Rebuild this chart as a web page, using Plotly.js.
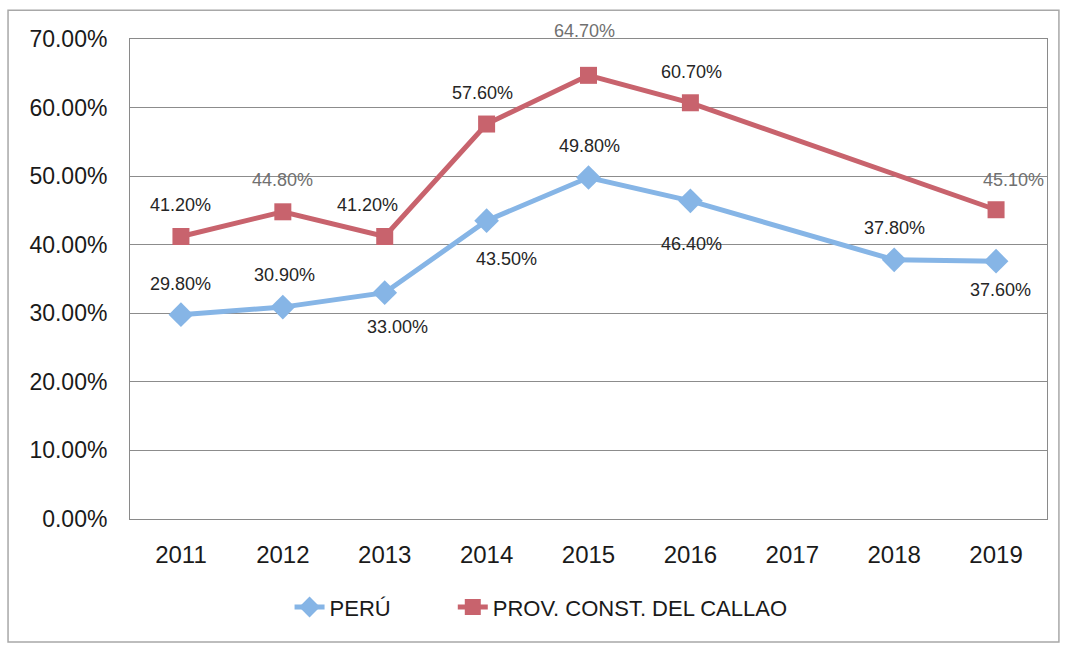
<!DOCTYPE html>
<html>
<head>
<meta charset="utf-8">
<script src="https://cdn.plot.ly/plotly-3.0.1.min.js"></script>
<style>html,body{margin:0;padding:0;background:#fff;}#chart{width:1066px;height:647px;}</style>
</head>
<body>
<div id="chart"></div>
<script>
var years = ['2011','2012','2013','2014','2015','2016','2017','2018','2019'];
var peru = [29.8, 30.9, 33.0, 43.5, 49.8, 46.4, null, 37.8, 37.6];
var callao = [41.2, 44.8, 41.2, 57.6, 64.7, 60.7, null, null, 45.1];
var peruName = 'PERÚ';
var callaoName = 'PROV. CONST. DEL CALLAO';
var yTickVals = [0, 10, 20, 30, 40, 50, 60, 70];
var yTickText = ['0.00%', '10.00%', '20.00%', '30.00%', '40.00%', '50.00%', '60.00%', '70.00%'];

// label placement (style only)
var peruShift = [[0,-31],[2,-32],[13,34],[20,38],[1,-32],[1,43],null,[0,-32],[4,29]];
var callaoShift = [[0,-31],[0,-32],[-17,-31],[-4,-31],[-4,-44],[1,-31],null,null,[17,-30]];
var callaoGray = [false,true,false,false,true,false,false,false,true];

function fmt(v){ return v.toFixed(2) + '%'; }

var FONT = 'Liberation Sans, Arial, sans-serif';
var annotations = [];
function addLabels(vals, shifts, grayFlags){
  vals.forEach(function(v,i){
    if(v === null) return;
    var s = shifts[i];
    annotations.push({
      x: i, y: v, xref:'x', yref:'y', text: fmt(v), showarrow:false,
      xanchor:'center', yanchor:'middle',
      xshift: s[0], yshift: -s[1],
      font:{family: FONT, size:18, color: (grayFlags && grayFlags[i]) ? '#707070' : '#262626'}
    });
  });
}
addLabels(peru, peruShift, null);
addLabels(callao, callaoShift, callaoGray);

var traces = [
  {x: years, y: peru, name: peruName, type:'scatter', mode:'lines+markers', connectgaps:true, legend:'legend',
   line:{color:'#86B5E6', width:5}, marker:{symbol:'diamond', size:19, color:'#86B5E6'}},
  {x: years, y: callao, name: callaoName, type:'scatter', mode:'lines+markers', connectgaps:true, legend:'legend2',
   line:{color:'#C8636D', width:5}, marker:{symbol:'square', size:17, color:'#C8636D'}}
];

var legFont = {family: FONT, size:22, color:'#1a1a1a'};
var layout = {
  width:1066, height:647,
  margin:{l:130, r:19, t:39, b:128},
  paper_bgcolor:'#fff', plot_bgcolor:'#fff',
  showlegend:true,
  legend:{orientation:'h', x:0.174, xanchor:'left', y:-0.14, yanchor:'top', font: legFont},
  legend2:{orientation:'h', x:0.352, xanchor:'left', y:-0.14, yanchor:'top', font: legFont},
  xaxis:{type:'category', categoryorder:'array', categoryarray: years, range:[-0.5, 8.5],
    showgrid:false, showline:true, linecolor:'#8a8a8a', linewidth:1, mirror:true,
    ticks:'', ticklabelstandoff:14, tickfont:{family: FONT, size:24, color:'#1a1a1a'}, fixedrange:true},
  yaxis:{range:[0,70], tickvals: yTickVals, ticktext: yTickText,
    showgrid:true, gridcolor:'#8c8c8c', gridwidth:1, zeroline:false,
    showline:true, linecolor:'#8a8a8a', linewidth:1, mirror:true, ticks:'', ticklabelstandoff:17,
    tickfont:{family: FONT, size:23, color:'#1a1a1a'}, fixedrange:true},
  annotations: annotations,
  shapes:[{type:'rect', xref:'paper', yref:'paper', x0:-0.133, x1:1.013, y0:-0.256, y1:1.060,
    line:{color:'#a8a8a8', width:1.5}, fillcolor:'rgba(0,0,0,0)', layer:'below'}]
};

Plotly.newPlot('chart', traces, layout, {displayModeBar:false, staticPlot:true});
</script>
</body>
</html>
